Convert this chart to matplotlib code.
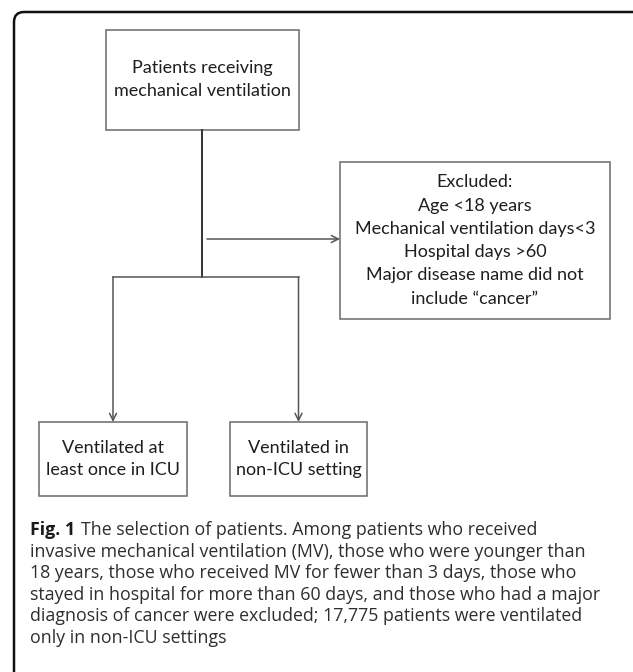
import matplotlib
matplotlib.use("Agg")
import matplotlib.pyplot as plt
from matplotlib.patches import FancyBboxPatch, Rectangle

# ---------- 内容 ----------
top_label = ["Patients receiving", "mechanical ventilation"]
excl_label = ["Excluded:", "Age <18 years", "Mechanical ventilation days<3",
              "Hospital days >60", "Major disease name did not",
              "include \u201ccancer\u201d"]
icu_label = ["Ventilated at", "least once in ICU"]
nonicu_label = ["Ventilated in", "non-ICU setting"]

cap_head = "Fig. 1"
cap_lines = [
    "The selection of patients. Among patients who received",
    "invasive mechanical ventilation (MV), those who were younger than",
    "18 years, those who received MV for fewer than 3 days, those who",
    "stayed in hospital for more than 60 days, and those who had a major",
    "diagnosis of cancer were excluded; 17,775 patients were ventilated",
    "only in non-ICU settings",
]

# ---------- 布局 (像素) ----------
W, H = 633, 672
boxes = {
    "top":    (106, 30, 299, 130),
    "excl":   (340, 162, 610, 319),
    "icu":    (39, 422, 187, 496),
    "nonicu": (230, 422, 367, 496),
}
EDGE = "#6a6a6a"
LINE = "#555555"
BOX_FONT = ["Lato", "DejaVu Sans"]
CAP_FONT = ["Open Sans", "DejaVu Sans"]

fig = plt.figure(figsize=(W / 100, H / 100), dpi=100)
ax = fig.add_axes([0, 0, 1, 1])
ax.set_xlim(0, W); ax.set_ylim(H, 0)
ax.axis("off")

# 外框
ax.add_patch(FancyBboxPatch((14, 12), 640, 680,
                            boxstyle="round,pad=0,rounding_size=10",
                            fc="none", ec="#111111", lw=1.8))


def box(key, lines, fs=13, dy=23):
    x0, y0, x1, y1 = boxes[key]
    ax.add_patch(Rectangle((x0, y0), x1 - x0, y1 - y0, fc="white",
                           ec=EDGE, lw=1.1))
    cx, cy = (x0 + x1) / 2, (y0 + y1) / 2
    n = len(lines)
    for i, s in enumerate(lines):
        ax.text(cx, cy + (i - (n - 1) / 2) * dy, s, ha="center",
                va="center", fontsize=fs, family=BOX_FONT, color="#1e1e1e")


def arrow(x0, y0, x1, y1):
    ax.annotate("", xy=(x1, y1), xytext=(x0, y0),
                arrowprops=dict(arrowstyle="->,head_length=0.5,head_width=0.25",
                                color=LINE, lw=1.1, shrinkA=0, shrinkB=0))


box("top", top_label, dy=23)
box("excl", excl_label, dy=23.3)
box("icu", icu_label, dy=22)
box("nonicu", nonicu_label, dy=22)

# 连线
trunk_x = 202
branch_y = 277
icu_x = (boxes["icu"][0] + boxes["icu"][2]) / 2
non_x = (boxes["nonicu"][0] + boxes["nonicu"][2]) / 2
ax.plot([trunk_x, trunk_x], [boxes["top"][3], branch_y], color="#333333", lw=1.4)
ax.plot([icu_x, non_x], [branch_y, branch_y], color=LINE, lw=1.1)
arrow(207, 239, boxes["excl"][0], 239)
arrow(icu_x, branch_y, icu_x, boxes["icu"][1])
arrow(non_x, branch_y, non_x, boxes["nonicu"][1])

# 图注
cap_x, cap_y, cap_dy = 30, 530, 21.6
cap_fs = 12.8
fig.canvas.draw()
r = fig.canvas.get_renderer()
th = ax.text(cap_x, cap_y, cap_head, fontsize=cap_fs, family=CAP_FONT,
             weight="bold", color="#1a1a1a", va="center", ha="left")
bb = th.get_window_extent(renderer=r)
x_after = ax.transData.inverted().transform((bb.x1, bb.y0))[0] + 6
for i, s in enumerate(cap_lines):
    x = x_after if i == 0 else cap_x
    ax.text(x, cap_y + i * cap_dy, s, fontsize=cap_fs, family=CAP_FONT,
            color="#2e2e2e", va="center", ha="left")

fig.savefig("out.png", dpi=100, facecolor="white")
